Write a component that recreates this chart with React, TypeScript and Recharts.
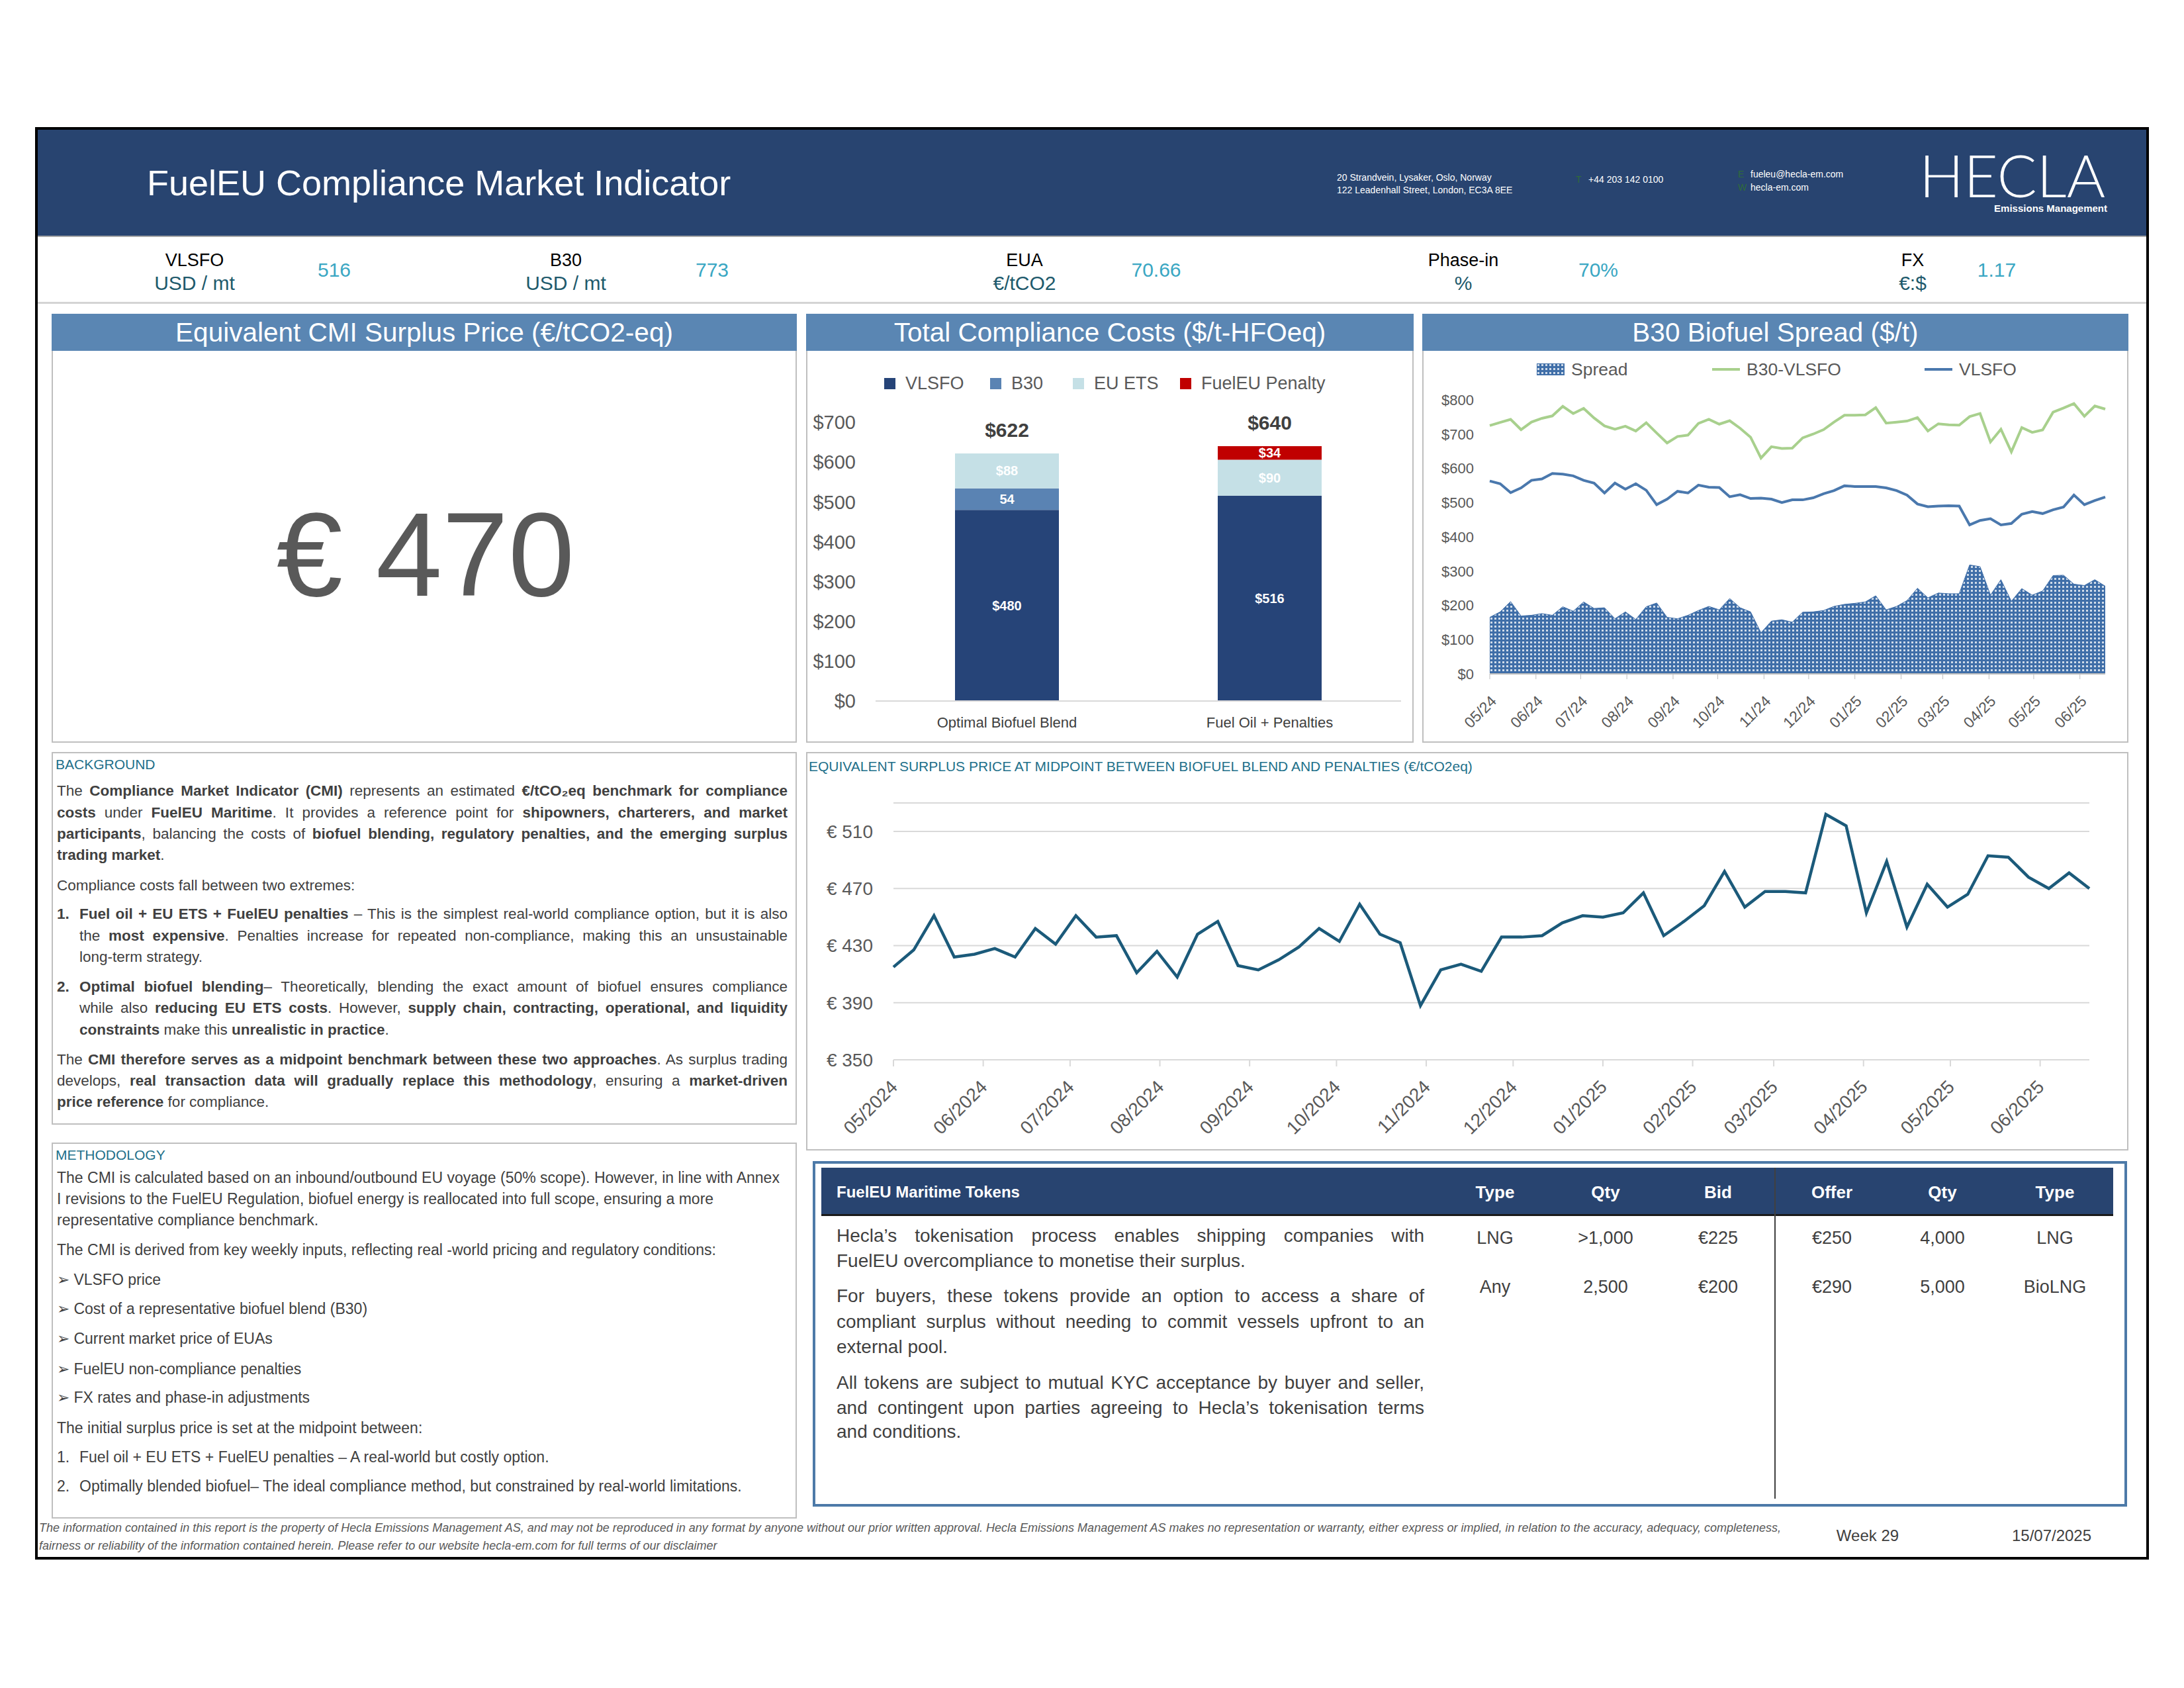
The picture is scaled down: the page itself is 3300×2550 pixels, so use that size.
import React from 'react';
import { ComposedChart, LineChart, Bar, Line, Area, XAxis, YAxis, CartesianGrid, LabelList } from 'recharts';

const FONT = '"Liberation Sans", Arial, sans-serif';

// weekly observation dates (Mondays)
const weeks = [
  '2024-05-27', '2024-06-03', '2024-06-10', '2024-06-17', '2024-06-24', '2024-07-01', '2024-07-08', '2024-07-15',
  '2024-07-22', '2024-07-29', '2024-08-05', '2024-08-12', '2024-08-19', '2024-08-26', '2024-09-02', '2024-09-09',
  '2024-09-16', '2024-09-23', '2024-09-30', '2024-10-07', '2024-10-14', '2024-10-21', '2024-10-28', '2024-11-04',
  '2024-11-11', '2024-11-18', '2024-11-25', '2024-12-02', '2024-12-09', '2024-12-16', '2024-12-23', '2024-12-30',
  '2025-01-06', '2025-01-13', '2025-01-20', '2025-01-27', '2025-02-03', '2025-02-10', '2025-02-17', '2025-02-24',
  '2025-03-03', '2025-03-10', '2025-03-17', '2025-03-24', '2025-03-31', '2025-04-07', '2025-04-14', '2025-04-21',
  '2025-04-28', '2025-05-05', '2025-05-12', '2025-05-19', '2025-05-26', '2025-06-02', '2025-06-09', '2025-06-16',
  '2025-06-23', '2025-06-30', '2025-07-07', '2025-07-14',
];

// month ticks of the date axes
const monthTicks = [
  '2024-05-27', '2024-06-27', '2024-07-27', '2024-08-27', '2024-09-27', '2024-10-27', '2024-11-27',
  '2024-12-27', '2025-01-27', '2025-02-27', '2025-03-27', '2025-04-27', '2025-05-27', '2025-06-27',
];

// €/tCO2eq midpoint surplus price
const midpointPrice = [
  415, 427, 451, 422, 424, 428, 422, 442, 431, 451, 436, 437, 411, 426, 408, 438, 447, 416, 413, 420,
  429, 442, 433, 459, 438, 432, 388, 413, 417, 412, 436, 436, 437, 446, 451, 450, 453, 467, 437, 447,
  458, 482, 457, 468, 468, 467, 522, 514, 453, 489, 443, 473, 457, 466, 493, 492, 478, 470, 481, 470,
];

// $/t
const spreadValues = [
  165, 181, 211, 169, 171, 176, 171, 196, 183, 210, 191, 193, 161, 181, 159, 196, 207, 165, 161, 171,
  185, 197, 187, 220, 193, 181, 120, 154, 158, 151, 180, 181, 185, 197, 203, 206, 210, 228, 187, 197,
  214, 250, 222, 236, 234, 234, 318, 313, 230, 275, 212, 249, 230, 242, 287, 288, 262, 258, 275, 256,
];
const b30Values = [
  725, 734, 743, 713, 735, 746, 753, 781, 760, 775, 747, 724, 714, 723, 709, 733, 703, 674, 693, 697,
  731, 743, 729, 739, 717, 691, 630, 663, 658, 659, 689, 700, 713, 735, 755, 755, 756, 777, 732, 735,
  738, 748, 709, 730, 727, 726, 751, 760, 677, 714, 648, 719, 705, 712, 764, 776, 789, 752, 782, 773,
];
const vlsfoValues = [
  563, 555, 529, 543, 565, 569, 585, 583, 578, 565, 557, 528, 557, 539, 555, 536, 494, 510, 533, 528,
  551, 545, 544, 517, 523, 512, 513, 510, 500, 508, 508, 514, 526, 535, 549, 547, 547, 547, 543, 535,
  522, 496, 488, 490, 491, 490, 435, 448, 453, 435, 439, 466, 474, 468, 479, 487, 522, 494, 506, 516,
];

// total compliance costs ($/t-HFOeq)
const costCategories = ['Optimal Biofuel Blend', 'Fuel Oil + Penalties'];
const vlsfoCost = [480, 516];
const b30Cost = [54, 0];
const etsCost = [88, 90];
const penaltyCost = [0, 34];
const totalCost = [622, 640];
const costTicks = [0, 100, 200, 300, 400, 500, 600, 700];
const spreadTicks = [0, 100, 200, 300, 400, 500, 600, 700, 800];
const midTicks = [350, 390, 430, 470, 510];

// indicator strip
const indicatorLabels = ['VLSFO', 'B30', 'EUA', 'Phase-in', 'FX'];
const indicatorUnits = ['USD / mt', 'USD / mt', '€/tCO2', '%', '€:$'];
const indicatorValues = ['516', '773', '70.66', '70%', '1.17'];
const labelX = [294, 855, 1548, 2211, 2890];
const valueX = [505, 1076, 1747, 2415, 3017];

// token table
const tokenHeaders = ['Type', 'Qty', 'Bid', 'Offer', 'Qty', 'Type'];
const tokenRows = [
  ['LNG', '>1,000', '€225', '€250', '4,000', 'LNG'],
  ['Any', '2,500', '€200', '€290', '5,000', 'BioLNG'],
];
const tokenColX = [2259, 2426, 2596, 2768, 2935, 3105];

const NAVY = '#284470';
const STEEL = '#5a86b3';
const TEAL = '#22708a';
const GRID = '#d9d9d9';
const C_VLSFO = '#264478';
const C_B30 = '#5a83b3';
const C_ETS = '#c5e0e6';
const C_PEN = '#c00000';
const C_GREEN = '#a8d08d';
const C_BLUE = '#4a78ad';
const C_MID = '#1b5a7a';
const C_SPREAD = '#3f6ea8';

const dayNum = (s: string) => Date.parse(s) / 86400000;
const monthLabel = (n: number, long: boolean) => {
  const d = new Date(n * 86400000).toISOString();
  return d.slice(5, 7) + '/' + (long ? d.slice(0, 4) : d.slice(2, 4));
};
const tickNums = monthTicks.map(dayNum);

const costData = costCategories.map((name, i) => ({
  name, vlsfo: vlsfoCost[i], b30: b30Cost[i], ets: etsCost[i], penalty: penaltyCost[i], total: totalCost[i],
}));
const weeklyData = weeks.map((w, i) => ({
  t: dayNum(w), mid: midpointPrice[i], spread: spreadValues[i], b30: b30Values[i], vlsfo: vlsfoValues[i],
}));

const Txt = ({ x, y, size, color = '#404040', weight = 400, anchor = 'start', italic = false, family = FONT, children }: any) => (
  <div
    style={{
      position: 'absolute', left: x, top: y - size * 0.5, fontSize: size, lineHeight: `${size}px`,
      color, fontWeight: weight, fontStyle: italic ? 'italic' : 'normal', fontFamily: family, whiteSpace: 'nowrap',
      transform: anchor === 'middle' ? 'translateX(-50%)' : anchor === 'end' ? 'translateX(-100%)' : undefined,
    }}
  >
    {children}
  </div>
);

const rich = (s: string) => s.split('**').map((p, i) => (i % 2 ? <b key={i}>{p}</b> : <span key={i}>{p}</span>));

const TextLine = ({ x, y, w, size, justify = false, text }: any) => (
  <div
    style={{
      position: 'absolute', left: x, top: y - size * 0.5, width: w, fontSize: size, lineHeight: `${size}px`,
      color: '#404040', fontFamily: FONT, textAlign: justify ? 'justify' : 'left',
      textAlignLast: justify ? 'justify' : 'left',
    }}
  >
    {rich(text)}
  </div>
);

const Box = ({ x, y, w, h, border = '2px solid #bfbfbf', bg, children }: any) => (
  <div style={{ position: 'absolute', left: x, top: y, width: w, height: h, border, boxSizing: 'border-box', background: bg }}>
    {children}
  </div>
);

const PanelHead = ({ x, w, title }: any) => (
  <div
    style={{
      position: 'absolute', left: x, top: 474, width: w, height: 56, background: STEEL, color: '#fff',
      fontSize: 40.5, lineHeight: '56px', textAlign: 'center', fontFamily: FONT, whiteSpace: 'nowrap',
    }}
  >
    {title}
  </div>
);

const DateTick = ({ x, y, payload, long, size, dx, dy }: any) => (
  <text
    x={x + dx} y={y + dy} transform={`rotate(-45 ${x + dx} ${y + dy})`} textAnchor="end"
    dominantBaseline="central" fontSize={size} fill="#595959" fontFamily={FONT}
  >
    {monthLabel(payload.value, long)}
  </text>
);

const bgLines = [
  { x: 86, y: 1195, w: 1104, j: true, t: 'The **Compliance Market Indicator (CMI)** represents an estimated **€/tCO₂eq benchmark for compliance**' },
  { x: 86, y: 1228, w: 1104, j: true, t: '**costs** under **FuelEU Maritime**. It provides a reference point for **shipowners, charterers, and market**' },
  { x: 86, y: 1260, w: 1104, j: true, t: '**participants**, balancing the costs of **biofuel blending, regulatory penalties, and the emerging surplus**' },
  { x: 86, y: 1292, w: 1104, j: false, t: '**trading market**.' },
  { x: 86, y: 1338, w: 1104, j: false, t: 'Compliance costs fall between two extremes:' },
  { x: 86, y: 1381, w: 36, j: false, t: '**1.**' },
  { x: 120, y: 1381, w: 1070, j: true, t: '**Fuel oil + EU ETS + FuelEU penalties** – This is the simplest real-world compliance option, but it is also' },
  { x: 120, y: 1414, w: 1070, j: true, t: 'the **most expensive**. Penalties increase for repeated non-compliance, making this an unsustainable' },
  { x: 120, y: 1446, w: 1070, j: false, t: 'long-term strategy.' },
  { x: 86, y: 1491, w: 36, j: false, t: '**2.**' },
  { x: 120, y: 1491, w: 1070, j: true, t: '**Optimal biofuel blending**– Theoretically, blending the exact amount of biofuel ensures compliance' },
  { x: 120, y: 1523, w: 1070, j: true, t: 'while also **reducing EU ETS costs**. However, **supply chain, contracting, operational, and liquidity**' },
  { x: 120, y: 1556, w: 1070, j: false, t: '**constraints** make this **unrealistic in practice**.' },
  { x: 86, y: 1601, w: 1104, j: true, t: 'The **CMI therefore serves as a midpoint benchmark between these two approaches**. As surplus trading' },
  { x: 86, y: 1633, w: 1104, j: true, t: 'develops, **real transaction data will gradually replace this methodology**, ensuring a **market-driven**' },
  { x: 86, y: 1665, w: 1104, j: false, t: '**price reference** for compliance.' },
];

const methodLines = [
  { x: 86, y: 1779, t: 'The CMI is calculated based on an inbound/outbound EU voyage (50% scope). However, in line with Annex' },
  { x: 86, y: 1811, t: 'I revisions to the FuelEU Regulation, biofuel energy is reallocated into full scope, ensuring a more' },
  { x: 86, y: 1843, t: 'representative compliance benchmark.' },
  { x: 86, y: 1888, t: 'The CMI is derived from key weekly inputs, reflecting real -world pricing and regulatory conditions:' },
  { x: 86, y: 1933, t: '➢ VLSFO price' },
  { x: 86, y: 1977, t: '➢ Cost of a representative biofuel blend (B30)' },
  { x: 86, y: 2022, t: '➢ Current market price of EUAs' },
  { x: 86, y: 2068, t: '➢ FuelEU non-compliance penalties' },
  { x: 86, y: 2111, t: '➢ FX rates and phase-in adjustments' },
  { x: 86, y: 2157, t: 'The initial surplus price is set at the midpoint between:' },
  { x: 86, y: 2201, t: '1.' },
  { x: 120, y: 2201, t: 'Fuel oil + EU ETS + FuelEU penalties – A real-world but costly option.' },
  { x: 86, y: 2245, t: '2.' },
  { x: 120, y: 2245, t: 'Optimally blended biofuel– The ideal compliance method, but constrained by real-world limitations.' },
];

const tokenText = [
  { y: 1867, j: true, t: 'Hecla’s tokenisation process enables shipping companies with' },
  { y: 1905, j: false, t: 'FuelEU overcompliance to monetise their surplus.' },
  { y: 1958, j: true, t: 'For buyers, these tokens provide an option to access a share of' },
  { y: 1997, j: true, t: 'compliant surplus without needing to commit vessels upfront to an' },
  { y: 2035, j: false, t: 'external pool.' },
  { y: 2089, j: true, t: 'All tokens are subject to mutual KYC acceptance by buyer and seller,' },
  { y: 2127, j: true, t: 'and contingent upon parties agreeing to Hecla’s tokenisation terms' },
  { y: 2163, j: false, t: 'and conditions.' },
];

const LegendSquare = ({ x, color, label }: any) => (
  <>
    <div style={{ position: 'absolute', left: x, top: 571, width: 17, height: 17, background: color }} />
    <Txt x={x + 32} y={579} size={27} color="#595959">{label}</Txt>
  </>
);

const LegendLine = ({ x, color, label }: any) => (
  <>
    <div style={{ position: 'absolute', left: x, top: 556, width: 42, height: 4, background: color }} />
    <Txt x={x + 52} y={558} size={26.5} color="#595959">{label}</Txt>
  </>
);

const DotPattern = ({ id }: any) => (
  <pattern id={id} width="6" height="6" patternUnits="userSpaceOnUse">
    <rect width="6" height="6" fill={C_SPREAD} />
    <rect x="1" y="1" width="3" height="3" fill="#ffffff" opacity="0.75" />
  </pattern>
);

const CostChart = () => (
  <div style={{ position: 'absolute', left: 1218, top: 530 }}>
    <ComposedChart width={918} height={592} data={costData} margin={{ top: 108, right: 19, bottom: 13, left: 5 }}>
      <XAxis
        dataKey="name" height={50} tickLine={false} axisLine={{ stroke: GRID, strokeWidth: 2 }}
        tick={{ fill: '#404040', fontSize: 22, fontFamily: FONT }} tickMargin={18}
      />
      <YAxis
        width={100} domain={[0, 700]} ticks={costTicks} tickFormatter={(v: number) => `$${v}`}
        axisLine={false} tickLine={false} tickMargin={24} tick={{ fill: '#595959', fontSize: 29, fontFamily: FONT }}
      />
      <Bar dataKey="vlsfo" stackId="a" fill={C_VLSFO} barSize={157} isAnimationActive={false}>
        <LabelList dataKey="vlsfo" position="center" fill="#fff" fontSize={20} fontWeight="bold" formatter={(v: any) => `$${v}`} />
      </Bar>
      <Bar dataKey="b30" stackId="a" fill={C_B30} barSize={157} isAnimationActive={false}>
        <LabelList dataKey="b30" position="center" fill="#fff" fontSize={20} fontWeight="bold" formatter={(v: any) => (v ? `${v}` : '')} />
      </Bar>
      <Bar dataKey="ets" stackId="a" fill={C_ETS} barSize={157} isAnimationActive={false}>
        <LabelList dataKey="ets" position="center" fill="#fff" fontSize={20} fontWeight="bold" formatter={(v: any) => `$${v}`} />
      </Bar>
      <Bar dataKey="penalty" stackId="a" fill={C_PEN} barSize={157} isAnimationActive={false}>
        <LabelList dataKey="penalty" position="center" fill="#fff" fontSize={20} fontWeight="bold" formatter={(v: any) => (v ? `$${v}` : '')} />
      </Bar>
      <Line dataKey="total" stroke="none" dot={false} activeDot={false} isAnimationActive={false}>
        <LabelList dataKey="total" position="top" offset={25} fill="#404040" fontSize={30} fontWeight="bold" formatter={(v: any) => `$${v}`} />
      </Line>
    </ComposedChart>
  </div>
);

const SpreadChart = () => (
  <div style={{ position: 'absolute', left: 2149, top: 530 }}>
    <ComposedChart width={1067} height={592} data={weeklyData} margin={{ top: 74, right: 35, bottom: 9, left: 2 }}>
      <defs>
        <DotPattern id="dots" />
      </defs>
      <XAxis
        type="number" dataKey="t" domain={['dataMin', 'dataMax']} ticks={tickNums} interval={0} height={95}
        tickSize={8} tickLine={{ stroke: '#bfbfbf' }} axisLine={{ stroke: '#bfbfbf', strokeWidth: 2 }}
        tick={(p: any) => <DateTick {...p} long={false} size={23} dx={6} dy={27} />}
      />
      <YAxis
        width={100} domain={[0, 800]} ticks={spreadTicks} tickFormatter={(v: number) => `$${v}`}
        axisLine={false} tickLine={false} tickMargin={18} tick={{ fill: '#595959', fontSize: 22, fontFamily: FONT }}
      />
      <Area type="linear" dataKey="spread" fill="url(#dots)" fillOpacity={1} stroke={C_SPREAD} strokeWidth={1} isAnimationActive={false} />
      <Line type="linear" dataKey="b30" stroke={C_GREEN} strokeWidth={4} dot={false} isAnimationActive={false} />
      <Line type="linear" dataKey="vlsfo" stroke={C_BLUE} strokeWidth={4} dot={false} isAnimationActive={false} />
    </ComposedChart>
  </div>
);

const MidpointChart = () => (
  <div style={{ position: 'absolute', left: 1218, top: 1136 }}>
    <LineChart width={1998} height={602} data={weeklyData} margin={{ top: 77, right: 59, bottom: 7, left: 2 }}>
      <CartesianGrid vertical={false} stroke={GRID} strokeWidth={2} />
      <XAxis
        type="number" dataKey="t" domain={['dataMin', 'dataMax']} ticks={tickNums} interval={0} height={130}
        tickSize={10} tickLine={{ stroke: GRID, strokeWidth: 2 }} axisLine={{ stroke: GRID, strokeWidth: 2 }}
        tick={(p: any) => <DateTick {...p} long size={28} dx={1} dy={24} />}
      />
      <YAxis
        width={130} domain={[350, 530]} ticks={midTicks} tickFormatter={(v: number) => `€ ${v}`}
        axisLine={false} tickLine={false} tickMargin={25} tick={{ fill: '#595959', fontSize: 28, fontFamily: FONT }}
      />
      <Line type="linear" dataKey="mid" stroke={C_MID} strokeWidth={4.5} dot={false} isAnimationActive={false} />
    </LineChart>
  </div>
);

export default function App() {
  return (
    <div style={{ position: 'absolute', left: 0, top: 0, width: 3300, height: 2550, background: '#fff', fontFamily: FONT, overflow: 'hidden' }}>
      {/* outer frame */}
      <Box x={53} y={192} w={3194} h={2164} border="4px solid #000" />

      {/* header band */}
      <div style={{ position: 'absolute', left: 57, top: 196, width: 3186, height: 160, background: NAVY }} />
      <div style={{ position: 'absolute', left: 57, top: 356, width: 3186, height: 2, background: '#a6a6a6' }} />
      <Txt x={222} y={276} size={54} color="#fff">FuelEU Compliance Market Indicator</Txt>
      <Txt x={2020} y={268} size={14} color="#fff">20 Strandvein, Lysaker, Oslo, Norway</Txt>
      <Txt x={2020} y={287} size={14} color="#fff">122 Leadenhall Street, London, EC3A 8EE</Txt>
      <Txt x={2381} y={271} size={14} color="#2f6b3a">T</Txt>
      <Txt x={2400} y={271} size={14} color="#fff">+44 203 142 0100</Txt>
      <Txt x={2626} y={263} size={14} color="#2f6b3a">E</Txt>
      <Txt x={2645} y={263} size={14} color="#fff">fueleu@hecla-em.com</Txt>
      <Txt x={2626} y={283} size={14} color="#2f6b3a">W</Txt>
      <Txt x={2645} y={283} size={14} color="#fff">hecla-em.com</Txt>
      <svg style={{ position: 'absolute', left: 2890, top: 190 }} width={310} height={140}>
        <text x={10} y={108} fontFamily="Lato, sans-serif" fontWeight={300} fontSize={88} fill="#fff" textLength={281} lengthAdjust="spacingAndGlyphs">
          HECLA
        </text>
      </svg>
      <Txt x={3184} y={314} size={15} color="#fff" weight={600} anchor="end">Emissions Management</Txt>

      {/* indicator strip */}
      {indicatorLabels.map((l, i) => (
        <React.Fragment key={l}>
          <Txt x={labelX[i]} y={393} size={27} color="#000" anchor="middle">{l}</Txt>
          <Txt x={labelX[i]} y={428} size={30} color="#1e5a6c" anchor="middle">{indicatorUnits[i]}</Txt>
          <Txt x={valueX[i]} y={408} size={30} color="#3aa7c3" anchor="middle">{indicatorValues[i]}</Txt>
        </React.Fragment>
      ))}
      <div style={{ position: 'absolute', left: 57, top: 456, width: 3186, height: 3, background: '#d4d4d4' }} />

      {/* panel 1: CMI */}
      <Box x={78} y={474} w={1126} h={648} />
      <PanelHead x={78} w={1126} title="Equivalent CMI Surplus Price (€/tCO2-eq)" />
      <div style={{ position: 'absolute', left: 643, top: 900 - 0.8465 * 180, transform: 'translateX(-50%)', fontSize: 180, lineHeight: '180px', color: '#595959', whiteSpace: 'nowrap' }}>
        € {midpointPrice[midpointPrice.length - 1]}
      </div>

      {/* panel 2: costs */}
      <Box x={1218} y={474} w={918} h={648} />
      <PanelHead x={1218} w={918} title="Total Compliance Costs ($/t-HFOeq)" />
      <LegendSquare x={1336} color={C_VLSFO} label="VLSFO" />
      <LegendSquare x={1496} color={C_B30} label="B30" />
      <LegendSquare x={1621} color={C_ETS} label="EU ETS" />
      <LegendSquare x={1783} color={C_PEN} label="FuelEU Penalty" />
      <CostChart />

      {/* panel 3: spread */}
      <Box x={2149} y={474} w={1067} h={648} />
      <PanelHead x={2149} w={1067} title="B30 Biofuel Spread ($/t)" />
      <svg style={{ position: 'absolute', left: 2322, top: 549 }} width={42} height={18}>
        <defs>
          <DotPattern id="dots2" />
        </defs>
        <rect width={42} height={18} fill="url(#dots2)" />
      </svg>
      <Txt x={2374} y={558} size={26.5} color="#595959">Spread</Txt>
      <LegendLine x={2587} color={C_GREEN} label="B30-VLSFO" />
      <LegendLine x={2908} color={C_BLUE} label="VLSFO" />
      <SpreadChart />

      {/* background */}
      <Box x={78} y={1136} w={1126} h={563} />
      <Txt x={84} y={1154} size={21} color={TEAL}>BACKGROUND</Txt>
      {bgLines.map((l, i) => (
        <TextLine key={i} x={l.x} y={l.y} w={l.w} size={22.5} justify={l.j} text={l.t} />
      ))}

      {/* midpoint chart */}
      <Box x={1218} y={1136} w={1998} h={602} />
      <Txt x={1222} y={1157} size={21} color={TEAL}>
        EQUIVALENT SURPLUS PRICE AT MIDPOINT BETWEEN BIOFUEL BLEND AND PENALTIES (€/tCO2eq)
      </Txt>
      <MidpointChart />

      {/* methodology */}
      <Box x={78} y={1726} w={1126} h={568} />
      <Txt x={84} y={1744} size={21} color={TEAL}>METHODOLOGY</Txt>
      {methodLines.map((l, i) => (
        <Txt key={i} x={l.x} y={l.y} size={23} color="#404040">{l.t}</Txt>
      ))}

      {/* token table */}
      <Box x={1228} y={1754} w={1986} h={522} border="4px solid #4d7aa8" />
      <div style={{ position: 'absolute', left: 1241, top: 1764, width: 1952, height: 70, background: NAVY }} />
      <div style={{ position: 'absolute', left: 1241, top: 1834, width: 1952, height: 3, background: '#1a1a1a' }} />
      <div style={{ position: 'absolute', left: 2681, top: 1764, width: 2, height: 500, background: '#404040' }} />
      <Txt x={1264} y={1801} size={24} color="#fff" weight={700}>FuelEU Maritime Tokens</Txt>
      {tokenHeaders.map((h, i) => (
        <Txt key={i} x={tokenColX[i]} y={1801} size={26} color="#fff" weight={700} anchor="middle">{h}</Txt>
      ))}
      {tokenRows.map((r, ri) =>
        r.map((c, ci) => (
          <Txt key={`${ri}-${ci}`} x={tokenColX[ci]} y={ri === 0 ? 1870 : 1944} size={27} color="#404040" anchor="middle">{c}</Txt>
        ))
      )}
      {tokenText.map((l, i) => (
        <TextLine key={i} x={1264} y={l.y} w={888} size={28} justify={l.j} text={l.t} />
      ))}

      {/* footer */}
      <Txt x={59} y={2308} size={18} color="#595959" italic>
        The information contained in this report is the property of Hecla Emissions Management AS, and may not be reproduced in any format by anyone without our prior written approval. Hecla Emissions Management AS makes no representation or warranty, either express or implied, in relation to the accuracy, adequacy, completeness,
      </Txt>
      <Txt x={59} y={2335} size={18} color="#595959" italic>
        fairness or reliability of the information contained herein. Please refer to our website hecla-em.com for full terms of our disclaimer
      </Txt>
      <Txt x={2822} y={2320} size={24} color="#404040" anchor="middle">Week 29</Txt>
      <Txt x={3100} y={2320} size={24} color="#404040" anchor="middle">15/07/2025</Txt>
    </div>
  );
}
